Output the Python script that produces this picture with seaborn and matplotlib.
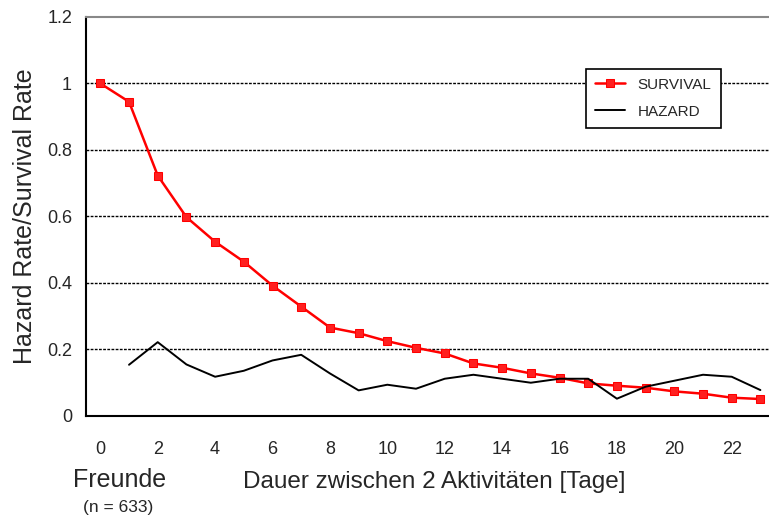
import matplotlib
matplotlib.use("Agg")
import matplotlib.pyplot as plt
import numpy as np
import pandas as pd
import seaborn as sns

# days between two activities (categories 0..23)
days = list(range(24))
survival = [1.0, 0.945, 0.723, 0.598, 0.524, 0.464, 0.392, 0.329, 0.266, 0.249,
            0.225, 0.205, 0.188, 0.158, 0.145, 0.128, 0.115, 0.098, 0.091, 0.085,
            0.074, 0.067, 0.055, 0.051]
hazard_days = list(range(1, 24))
hazard = [0.154, 0.222, 0.155, 0.118, 0.136, 0.167, 0.184, 0.128, 0.077, 0.094,
          0.082, 0.112, 0.124, 0.112, 0.100, 0.112, 0.112, 0.052, 0.088, 0.106,
          0.124, 0.118, 0.078]
y_ticks = [0, 0.2, 0.4, 0.6, 0.8, 1, 1.2]
y_labels = ["0", "0.2", "0.4", "0.6", "0.8", "1", "1.2"]
x_labels = [str(d) for d in range(0, 23, 2)]

sns.set_style("white")
plt.rcParams['font.family'] = ['Liberation Sans', 'DejaVu Sans']

surv_df = pd.DataFrame({"Tag": days, "Rate": survival})
haz_df = pd.DataFrame({"Tag": hazard_days, "Rate": hazard})

fig = plt.figure(figsize=(7.69, 5.19), dpi=100)
ax = fig.add_axes([0.1118, 0.1985, 0.8882, 0.7688])

sns.lineplot(data=surv_df, x="Tag", y="Rate", color="#ff0000", linewidth=1.8,
             marker="s", markersize=5.5, markeredgecolor="#ff0000",
             markerfacecolor="#ff2020", label="SURVIVAL", ax=ax, zorder=3)
sns.lineplot(data=haz_df, x="Tag", y="Rate", color="black", linewidth=1.4,
             label="HAZARD", ax=ax, zorder=3)

ax.set_ylim(0, 1.2)
ax.set_xlim(-0.5, 23.3)

ax.set_yticks(y_ticks)
ax.set_yticklabels(y_labels, fontsize=13)
for y in y_ticks[1:-1]:
    ax.axhline(y, color="black", linewidth=1.0, linestyle=(0, (2, 1)), zorder=1)

# category boundaries as ticks, labels at the even category centres
ax.set_xticks(np.arange(-0.5, 23.3, 1.0))
ax.set_xticklabels([])
ax.set_xticks(range(0, 23, 2), minor=True)
ax.set_xticklabels(x_labels, minor=True, fontsize=13)
ax.tick_params(axis="x", which="major", direction="out", length=6, width=1.2, color="black")
ax.tick_params(axis="x", which="minor", length=0, pad=18)
ax.tick_params(axis="y", direction="out", length=6, width=1.2, color="black", pad=4)

ax.spines["left"].set_color("black")
ax.spines["left"].set_linewidth(1.5)
ax.spines["bottom"].set_color("black")
ax.spines["bottom"].set_linewidth(1.5)
ax.spines["top"].set_color("#888888")
ax.spines["top"].set_linewidth(1.5)
ax.spines["right"].set_visible(False)

ax.set_xlabel("")
ax.set_ylabel("Hazard Rate/Survival Rate", fontsize=18, labelpad=7)

fig.text(0.156, 0.076, "Freunde", fontsize=18, ha="center", va="center")
fig.text(0.153, 0.022, "(n = 633)", fontsize=12.5, ha="center", va="center")
fig.text(0.565, 0.071, "Dauer zwischen 2 Aktivitäten [Tage]", fontsize=17.5,
         ha="center", va="center")

leg = ax.legend(loc="upper left", bbox_to_anchor=(0.7205, 0.89), fontsize=11,
                frameon=True, fancybox=False, framealpha=1, edgecolor="black",
                borderpad=0.6, handlelength=2.0, labelspacing=0.85)
leg.get_frame().set_linewidth(1.2)

fig.savefig("out.png", dpi=100)
